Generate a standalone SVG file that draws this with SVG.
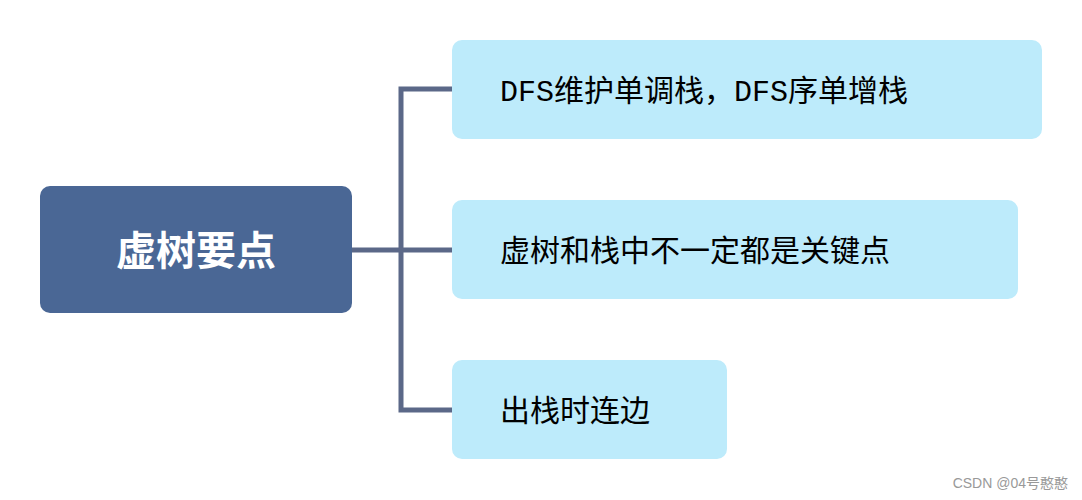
<svg xmlns="http://www.w3.org/2000/svg" width="1082" height="500" viewBox="0 0 1082 500">
<style>
.c{fill:#bdebfb}
.t{font-family:"Liberation Mono","Noto Sans CJK SC",monospace;font-size:30px;fill:#000}
.l{stroke:#5b6888;stroke-width:5;fill:none}
</style>
<rect width="1082" height="500" fill="#fff"/>
<g id="connectors">
<path class="l" d="M352 250H401M452 89H401V410H452M401 250H452"/>
</g>
<g id="root"><rect x="40" y="186" width="312" height="127" rx="10" fill="#4a6795"/>
<text x="196" y="254" text-anchor="middle" dominant-baseline="middle" font-family="'Noto Sans CJK SC',serif" font-weight="bold" font-size="40" fill="#fff">虚树要点</text></g>
<g id="n1"><rect class="c" x="452" y="40" width="590" height="99" rx="10"/><text class="t" x="500" y="101">DFS维护单调栈，DFS序单增栈</text></g>
<g id="n2"><rect class="c" x="452" y="200" width="566" height="99" rx="10"/><text class="t" x="500" y="261">虚树和栈中不一定都是关键点</text></g>
<g id="n3"><rect class="c" x="452" y="360" width="275" height="99" rx="10"/><text class="t" x="500" y="421">出栈时连边</text></g>
<text x="1068" y="488" text-anchor="end" font-family="'Liberation Sans','Noto Sans CJK SC',sans-serif" font-size="14" fill="#999">CSDN @04号憨憨</text>
</svg>
